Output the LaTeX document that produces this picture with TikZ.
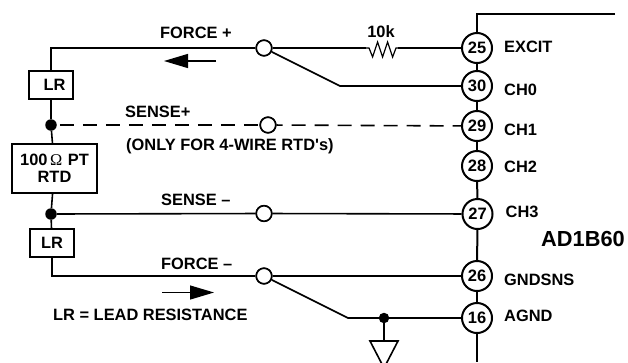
\documentclass[tikz,border=0pt]{standalone}
\usepackage{fontspec}
\setmainfont{Liberation Sans}
\newfontfamily\omegafont{Liberation Serif}
\newfontfamily\plainq{Liberation Sans}
\usetikzlibrary{arrows.meta}
\tikzset{
  wire/.style={line width=1.6pt,line cap=butt,line join=miter},
  rail/.style={line width=2pt,line cap=butt,line join=miter},
  pin/.style={circle,draw,line width=2pt,fill=white,minimum size=30pt,inner sep=0pt,font=\fontsize{16.5}{18}\selectfont\bfseries},
  sw/.style={circle,draw,line width=1.6pt,fill=white,minimum size=15.5pt,inner sep=0pt},
  dot/.style={circle,fill=black,minimum size=11.5pt,inner sep=0pt},
  lbl/.style={font=\fontsize{16.4}{18}\selectfont\bfseries,inner sep=0pt,text=black},
  boxx/.style={draw,line width=1.6pt,fill=white,inner sep=0pt,font=\fontsize{16.4}{18}\selectfont\bfseries,align=center},
  flow/.style={line width=1.3pt,-{Triangle[length=24pt,width=14pt]}}
}
\begin{document}
\begin{tikzpicture}[x=1pt,y=-1pt]
\useasboundingbox (0,0) rectangle (628,362);
% coordinates
\coordinate (topR) at (615,14);
\coordinate (topL) at (477,14);
\coordinate (botP) at (477,362);
\coordinate (c1) at (51,48);
\coordinate (c2) at (51,276);
\coordinate (bend1) at (340,86);
\coordinate (bend2) at (348,318);
\coordinate (r1) at (366,48);
\coordinate (r2) at (398,48);
\coordinate (gnd) at (384,341);
\coordinate (a1) at (216,61);
\coordinate (a2) at (164,61);
\coordinate (a3) at (162,292.5);
\coordinate (a4) at (214,292.5);
% pins
\node[pin] (p25) at (477,48) {25};
\node[pin] (p30) at (477,86) {30};
\node[pin] (p29) at (477,126) {29};
\node[pin] (p28) at (477,166) {28};
\node[pin] (p27) at (477.5,214) {27};
\node[pin] (p26) at (477,276) {26};
\node[pin] (p16) at (477,318) {16};
% switches and dots
\node[sw] (s1) at (264,48) {};
\node[sw] (s2) at (268,125) {};
\node[sw] (s3) at (264,213.5) {};
\node[sw] (s4) at (264,276) {};
\node[dot] (d1) at (51,125) {};
\node[dot] (d2) at (51,214) {};
\node[dot,minimum size=10.5pt] (d3) at (384,318) {};
% boxes
\node[boxx,minimum width=44pt,minimum height=28pt] (lr1) at (51,85) {\hspace{7pt}LR};
\node[boxx,minimum width=85pt,minimum height=49pt] (rtd) at (54.5,168.5) {100\,{\omegafont\mdseries Ω}\,\,PT\\[-1pt]RTD};
\node[boxx,minimum width=44pt,minimum height=28pt] (lr2) at (52,243) {LR};
% main vertical
\draw[rail] (topR) -- (topL) -- (p25);
\draw[rail] (p25) -- (p30);
\draw[rail] (p30) -- (p29);
\draw[rail] (p29) -- (p28);
\draw[rail] (p28) -- (p27);
\draw[rail] (p27) -- (p26);
\draw[rail] (p26) -- (p16);
\draw[rail] (p16) -- (botP);
% left wiring
\draw[wire] (s1) -- (c1) -- (lr1);
\draw[wire] (lr1) -- (d1) -- (rtd);
\draw[wire] (rtd) -- (d2) -- (lr2);
\draw[wire] (lr2) -- (lr2 |- c2) -- (s4);
\draw[wire] (s1) -- (r1);
\draw[wire] (r2) -- (p25);
\draw[wire,line width=1.2pt] (r1) -- ++(3,0) -- ++(3.6,9) -- ++(5,-15) -- ++(5,15) -- ++(5,-15) -- ++(5,15) -- ++(3.4,-9) -- (r2);
\draw[wire] (s1) -- (bend1) -- (p30);
\draw[wire,dash pattern=on 14pt off 9pt,dash phase=-3pt] (d1) -- (s2);
\draw[wire,dash pattern=on 14pt off 9pt,dash phase=8pt] (s2) -- (p29);
\draw[wire] (d2) -- (s3) -- (p27);
\draw[wire] (s4) -- (p26);
\draw[wire] (s4) -- (bend2) -- (p16);
\draw[wire] (d3) -- (gnd);
\draw[wire,fill=white] (370,341) -- (398,341) -- (384,368) -- cycle;
\draw[flow] (a1) -- (a2);
\draw[flow] (a3) -- (a4);
% redraw nodes on top of the wires
\node[sw] at (s1) {};
\node[sw] at (s2) {};
\node[sw] at (s3) {};
\node[sw] at (s4) {};
% labels
\node[lbl,anchor=west] (t1) at (160,33) {FORCE +};
\node[lbl,anchor=west] (t2) at (125,112) {SENSE+};
\node[lbl,anchor=west] (t3) at (126,146.5) {(ONLY FOR 4-WIRE RTD{\plainq\bfseries '}s)};
\node[lbl,anchor=west] (t4) at (161,200) {SENSE –};
\node[lbl,anchor=west] (t5) at (161,264) {FORCE –};
\node[lbl,anchor=west] (t6) at (53,315) {LR = LEAD RESISTANCE};
\node[lbl,anchor=center] (t7) at (381,32) {10k};
\node[lbl,anchor=west] (n25) at (504,47) {EXCIT};
\node[lbl,anchor=west] (n30) at (504,90) {CH0};
\node[lbl,anchor=west] (n29) at (504,130) {CH1};
\node[lbl,anchor=west] (n28) at (504,167) {CH2};
\node[lbl,anchor=west] (n27) at (505.5,212) {CH3};
\node[lbl,anchor=west] (n26) at (504,280) {GNDSNS};
\node[lbl,anchor=west] (n16) at (504,316) {AGND};
\node[lbl,anchor=west,font=\fontsize{21.8}{24}\selectfont\bfseries] (chip) at (541,239) {AD1B60};
\end{tikzpicture}
\end{document}
